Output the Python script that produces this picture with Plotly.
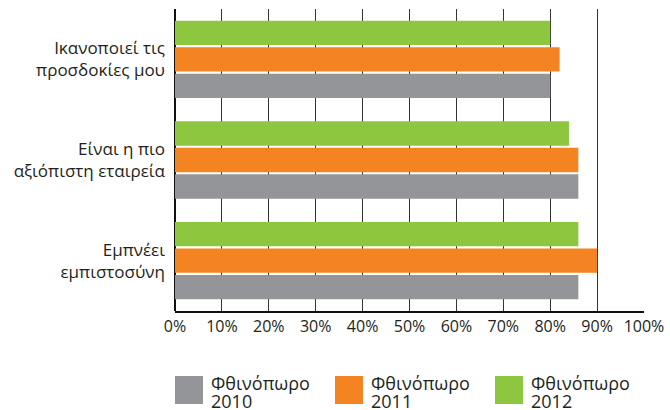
import plotly.graph_objects as go

categories = ["Εμπνέει<br>εμπιστοσύνη",
              "Είναι η πιο<br>αξιόπιστη εταιρεία",
              "Ικανοποιεί τις<br>προσδοκίες μου"]
series_names = ["Φθινόπωρο<br>2010", "Φθινόπωρο<br>2011", "Φθινόπωρο<br>2012"]
values_2010 = [86, 86, 80]
values_2011 = [90, 86, 82]
values_2012 = [86, 84, 80]
tick_vals = [0, 10, 20, 30, 40, 50, 60, 70, 80, 90, 100]
tick_text = [f"{v}%" for v in tick_vals]
colors = ["#939598", "#F38421", "#8DC63F"]

FONT = "Open Sans"
TXT = "#231F20"

L, R, T, B = 175, 26, 9, 99
W, H = 670, 410
PW, PH = W - L - R, H - T - B


def px(x):
    return (x - L) / PW


def py(y):
    return (H - B - y) / PH


fig = go.Figure()
for name, vals, col in zip(series_names, [values_2010, values_2011, values_2012], colors):
    fig.add_trace(go.Bar(
        y=categories, x=vals, name=name, orientation="h",
        marker=dict(color=col, line=dict(width=0)),
        showlegend=False, hoverinfo="x+y",
    ))

# custom legend (large square swatches, tight two-line labels)
for i, (name, col) in enumerate(zip(series_names, colors)):
    x0 = 175 + i * 160
    fig.add_shape(type="rect", xref="paper", yref="paper",
                  x0=px(x0), x1=px(x0 + 28), y0=py(376), y1=py(404),
                  fillcolor=col, line=dict(width=0))
    for line_text, yc in zip(name.split("<br>"), [382.5, 400.5]):
        fig.add_annotation(xref="paper", yref="paper",
                           x=px(x0 + 35), y=py(yc),
                           xanchor="left", yanchor="middle", align="left",
                           text=line_text, showarrow=False, borderpad=0,
                           font=dict(family=FONT, size=18, color=TXT))

fig.update_layout(
    width=W, height=H,
    margin=dict(l=L, r=R, t=T, b=B, autoexpand=False),
    paper_bgcolor="white", plot_bgcolor="white",
    barmode="group", bargap=0.21, bargroupgap=0.08,
    font=dict(family=FONT, color=TXT),
    xaxis=dict(range=[0, 100], tickvals=tick_vals, ticktext=tick_text,
               showgrid=True, gridcolor="#333333", gridwidth=1.3,
               showline=True, linecolor="#111111", linewidth=1.5,
               zeroline=True, zerolinecolor="#111111", zerolinewidth=1.5,
               ticks="", tickfont=dict(family=FONT, size=16, color=TXT),
               automargin=False, fixedrange=True),
    yaxis=dict(categoryorder="array", categoryarray=categories,
               showgrid=False, showline=False, zeroline=False,
               ticks="", ticklabelstandoff=9,
               tickfont=dict(family=FONT, size=17, color=TXT),
               automargin=False, fixedrange=True),
)

fig.write_html("out.html", config={"displayModeBar": False},
               post_script="document.body.style.margin='0';document.body.style.overflow='hidden';")
